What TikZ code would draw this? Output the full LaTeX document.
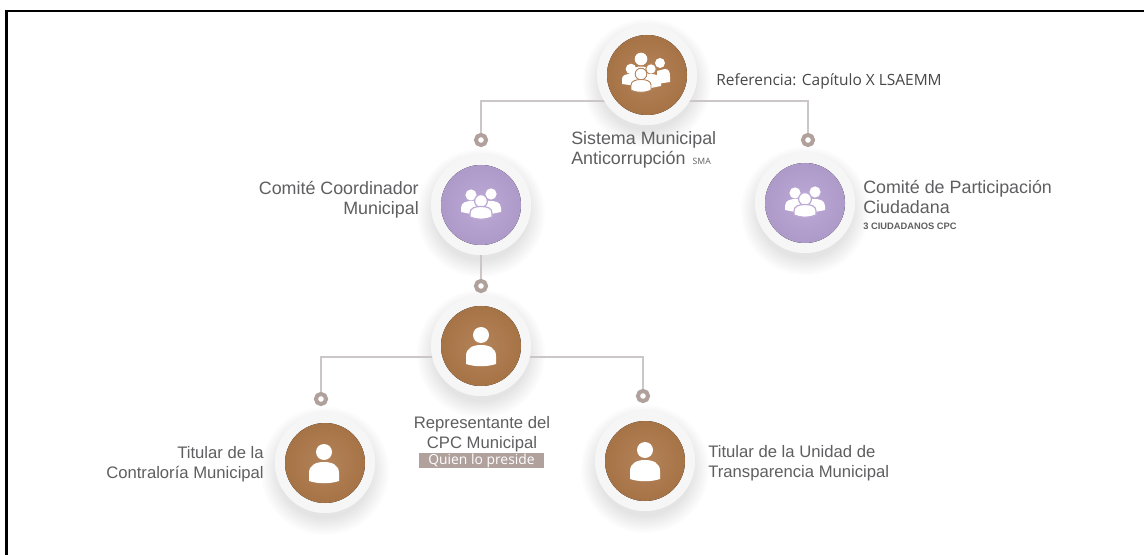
\documentclass[tikz,border=0pt]{standalone}
\usepackage{fontspec}
\setmainfont{Liberation Sans}
\newfontfamily\mont{Open Sans}
\usetikzlibrary{calc}
\definecolor{brownc}{HTML}{B5835A}
\definecolor{brownd}{HTML}{A57345}
\definecolor{purc}{HTML}{BDA9D5}
\definecolor{purd}{HTML}{AE9AC9}
\definecolor{linec}{HTML}{CBC7C7}
\definecolor{dotc}{HTML}{B0A19D}
\definecolor{txt}{HTML}{5F5F61}
\definecolor{haloc}{HTML}{F6F6F6}
\tikzset{
  x=0.75pt,y=-0.75pt,
  anchorpt/.style={circle,minimum size=100*0.75pt,inner sep=0pt},
  conn/.style={draw=linec,line width=1.5pt},
  ringdot/.style={circle,draw=dotc,fill=white,line width=3pt,minimum size=7.6pt,inner sep=0pt},
  lab/.style={text=txt,font=\fontsize{13.4pt}{15pt}\selectfont,inner sep=0pt},
  labs/.style={text=txt,font=\fontsize{12.5pt}{15pt}\selectfont,inner sep=0pt}
}
\newcommand{\softhalo}[1]{%
  \foreach \r in {64,62,...,48}{\fill[black,fill opacity=0.01] ($(#1)+(0,8)$) circle (\r);}
  \fill[haloc] (#1) circle (50);}
\newcommand{\discbrown}[1]{\fill[inner color=brownc,outer color=brownd] (#1) circle (40);}
\newcommand{\discpur}[1]{\fill[inner color=purc,outer color=purd] (#1) circle (40);}
\newcommand{\personicon}[1]{%
  \begin{scope}[shift={(#1)}]
    \fill[white] (0,-11) circle (8);
    \fill[white] (-15,18) -- (-15,10) .. controls (-15,2) and (-8,-1) .. (0,-1) .. controls (8,-1) and (15,2) .. (15,10) -- (15,18) .. controls (6,21) and (-6,21) .. (-15,18) -- cycle;
  \end{scope}}
\newcommand{\threeicon}[2]{%
  \begin{scope}[shift={(#1)}]
    \fill[white] (-10,-10) circle (5.6);
    \fill[white] (10,-11) circle (5.6);
    \fill[white] (-20,7) -- (-20,3) .. controls (-20,-3) and (-14,-4) .. (-9,-4) -- (9,-4) .. controls (14,-4) and (20,-3) .. (20,3) -- (20,7) -- (10,9) -- (-10,9) -- cycle;
    \draw[#2,fill=white,line width=0.9pt] (0,-4) circle (6.4);
    \draw[#2,fill=white,line width=0.9pt] (-11,12) -- (-11,8) .. controls (-11,3) and (-6,1.5) .. (0,1.5) .. controls (6,1.5) and (11,3) .. (11,8) -- (11,12) .. controls (4,15) and (-4,15) .. (-11,12) -- cycle;
  \end{scope}}
\begin{document}
\begin{tikzpicture}
\useasboundingbox (0,0) rectangle (1144,555);
\fill[white] (0,0) rectangle (1144,555);
\draw[black,line width=2.2pt] (6.5,555) -- (6.5,11) -- (1144,11);

\coordinate (lA) at (481,101);
\coordinate (rA) at (808,101);
\coordinate (lB) at (321,357);
\coordinate (rB) at (643,357);
\node[anchorpt] (top) at (647,75) {};
\node[anchorpt] (ccm) at (481,205) {};
\node[anchorpt] (cpc) at (805,203) {};
\node[anchorpt] (rep) at (481,346) {};
\node[anchorpt] (tc) at (325,463) {};
\node[anchorpt] (tu) at (645,461) {};

\softhalo{top.center}
\softhalo{ccm.center}
\softhalo{cpc.center}
\softhalo{rep.center}
\softhalo{tc.center}
\softhalo{tu.center}

\node[ringdot] (d1) at (481,140) {};
\node[ringdot] (d2) at (808,140) {};
\node[ringdot] (d3) at (481,286) {};
\node[ringdot] (d4) at (321,399) {};
\node[ringdot] (d5) at (643,396) {};
\draw[conn] (top.center |- lA) -- (lA) -- (d1);
\draw[conn] (top.center |- rA) -- (rA) -- (d2);
\draw[conn] (ccm.south) -- (d3);
\draw[conn] (rep.center |- lB) -- (lB) -- (d4);
\draw[conn] (rep.center |- rB) -- (rB) -- (d5);

\fill[haloc] (top.center) circle (50);
\fill[haloc] (ccm.center) circle (50);
\fill[haloc] (cpc.center) circle (50);
\fill[haloc] (rep.center) circle (50);
\fill[haloc] (tc.center) circle (50);
\fill[haloc] (tu.center) circle (50);
\discbrown{top.center}
\discpur{ccm.center}
\discpur{cpc.center}
\discbrown{rep.center}
\discbrown{tc.center}
\discbrown{tu.center}

% five-person icon
\begin{scope}[shift={(647,75)}]
  \fill[white] (13,-12) circle (5);
  \fill[white] (10,-4) -- (18,-6) .. controls (22,-6) and (23,-3) .. (23,2) -- (23,7) -- (10,9) -- cycle;
  \fill[white] (-6,-16) circle (6.3);
  \fill[white] (-16,-4) .. controls (-13,-10) and (1,-10) .. (4,-4) -- (4,2) -- (-14,2) -- cycle;
  \draw[brownc,fill=white,line width=0.7pt] (4,-6) circle (5.3);
  \fill[white] (-5,10) -- (-5,4) .. controls (-3,0) and (1,-1) .. (4,-1) .. controls (9,-1) and (14,1) .. (14,6) -- (14,11) -- (4,13) -- cycle;
  \fill[white] (-16,-6) circle (5.3);
  \fill[white] (-25,9) -- (-25,4) .. controls (-25,0) and (-21,-1) .. (-16,-1) .. controls (-11,-1) and (-7,1) .. (-7,5) -- (-10,11) -- cycle;
  \draw[brownc,fill=white,line width=0.7pt] (-6,-1) circle (5.8);
  \draw[brownc,fill=white,line width=0.7pt] (-16,15) -- (-16,10) .. controls (-16,6) and (-11,4.5) .. (-6,4.5) .. controls (-1,4.5) and (4,6) .. (4,10) -- (4,15) .. controls (-1,18) and (-11,18) .. (-16,15) -- cycle;
\end{scope}
\threeicon{ccm.center}{purc}
\threeicon{cpc.center}{purc}
\personicon{rep.center}
\personicon{$(tc.center)+(-1,0)$}
\personicon{tu.center}

\node[lab,anchor=west,align=left] (t1) at (571,149.5) {Sistema Municipal\\Anticorrupción {\mont\fontsize{6.5pt}{7pt}\selectfont\ SMA}};
\node[inner sep=0pt,anchor=west,text=black!72,font={\mont\fontsize{11.6pt}{13pt}\selectfont}] (t2) at (716,81) {Referencia: Capítulo X LSAEMM};
\node[lab,anchor=east,align=right] (t3) at (419,200) {Comité Coordinador\\Municipal};
\node[lab,anchor=west,align=left] (t4) at (863,197) {Comité de Participación\\Ciudadana};
\node[anchor=west,inner sep=0pt,text=txt,font={\bfseries\fontsize{7pt}{8pt}\selectfont}] (t5) at (863,226) {3 CIUDADANOS CPC};
\node[labs,anchor=center,align=center] (t6) at (482,434.5) {Representante del\\CPC Municipal};
\node[fill=dotc,text=white,inner sep=0pt,minimum width=125*0.75pt,minimum height=15*0.75pt,font={\mont\fontsize{10.4pt}{11pt}\selectfont}] (t7) at (481.5,460.5) {Quien lo preside};
\node[labs,anchor=east,align=right] (t8) at (264,464) {Titular de la\\Contraloría Municipal};
\node[labs,anchor=west,align=left] (t9) at (708,463) {Titular de la Unidad de\\Transparencia Municipal};
\end{tikzpicture}
\end{document}
